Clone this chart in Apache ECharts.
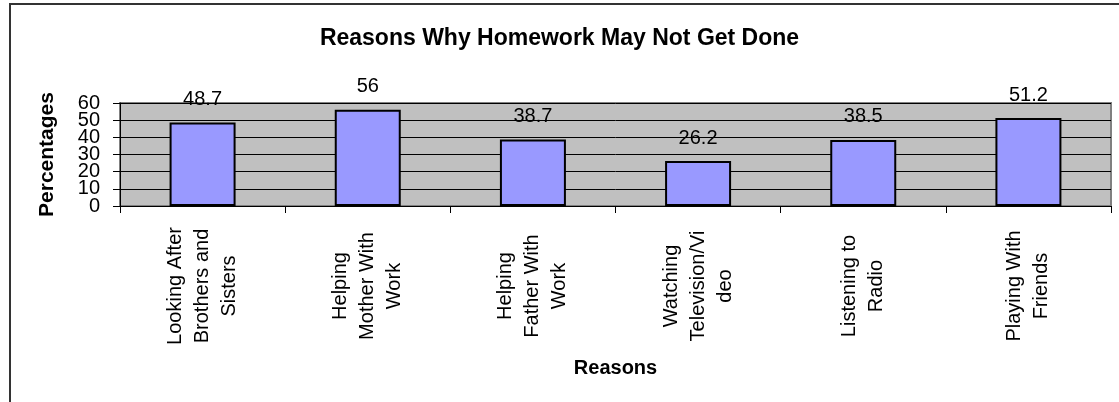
<!DOCTYPE html>
<html>
<head>
<meta charset="utf-8">
<script src="https://cdn.jsdelivr.net/npm/echarts@6/dist/echarts.min.js"></script>
<style>
html,body{margin:0;padding:0;background:#fff;}
#c{width:1119px;height:402px;}
</style>
</head>
<body>
<div id="c"></div>
<script>
var categories = [
  "Looking After\nBrothers and\nSisters",
  "Helping\nMother With\nWork",
  "Helping\nFather With\nWork",
  "Watching\nTelevision/Vi\ndeo",
  "Listening to\nRadio",
  "Playing With\nFriends"
];
var percentages = [48.7, 56, 38.7, 26.2, 38.5, 51.2];
var yTicks = { min: 0, max: 60, interval: 10 };

var FONT = '"Liberation Sans", Arial, sans-serif';
var chart = echarts.init(document.getElementById('c'), null, { renderer: 'canvas' });

function yLabelStyle(showEven) {
  return {
    margin: 20, fontFamily: FONT, fontSize: 20, color: '#000',
    showMinLabel: showEven, showMaxLabel: showEven, hideOverlap: false,
    formatter: function (v) {
      var even = (Math.round(v / yTicks.interval) % 2 === 0);
      return (even === showEven) ? String(v) : '';
    }
  };
}

chart.setOption({
  animation: false,
  backgroundColor: '#ffffff',
  textStyle: { fontFamily: FONT },
  title: {
    text: 'Reasons Why Homework May Not Get Done',
    left: 'center',
    top: 22,
    textStyle: { fontFamily: FONT, fontSize: 23, fontWeight: 'bold', color: '#000' }
  },
  graphic: [{
    type: 'rect',
    shape: { x: 10, y: 4, width: 1130, height: 420 },
    style: { fill: 'none', stroke: '#333333', lineWidth: 2 },
    silent: true
  }],
  grid: {
    left: 120, right: 8, top: 103, bottom: 196,
    show: true, backgroundColor: '#C0C0C0', borderColor: '#808080', borderWidth: 2
  },
  xAxis: {
    type: 'category',
    data: categories,
    name: 'Reasons',
    nameLocation: 'middle',
    nameGap: 152,
    nameTextStyle: { fontFamily: FONT, fontSize: 20, fontWeight: 'bold', color: '#000', verticalAlign: 'top' },
    axisLine: { lineStyle: { color: '#000', width: 1 } },
    axisTick: { show: true, length: 7, alignWithLabel: false, lineStyle: { color: '#000' } },
    axisLabel: {
      rotate: 90, interval: 0, margin: 80, align: 'center', verticalAlign: 'middle',
      fontFamily: FONT, fontSize: 20, lineHeight: 27, color: '#000'
    }
  },
  yAxis: [{
    type: 'value',
    position: 'left',
    min: yTicks.min, max: yTicks.max, interval: yTicks.interval,
    name: 'Percentages',
    nameLocation: 'middle',
    nameRotate: 90,
    nameGap: 62,
    nameTextStyle: { fontFamily: FONT, fontSize: 21, fontWeight: 'bold', color: '#000' },
    axisLine: { show: true, lineStyle: { color: '#000', width: 1 } },
    axisTick: { show: true, length: 7, lineStyle: { color: '#000' } },
    axisLabel: yLabelStyle(true),
    splitLine: { show: true, lineStyle: { color: '#000', width: 1 } }
  }, {
    type: 'value',
    position: 'left',
    offset: 0,
    min: yTicks.min, max: yTicks.max, interval: yTicks.interval,
    axisLine: { show: false },
    axisTick: { show: false },
    axisLabel: yLabelStyle(false),
    splitLine: { show: false }
  }],
  series: [{
    type: 'bar',
    yAxisIndex: 0,
    data: percentages,
    barWidth: 66,
    itemStyle: { color: '#9999FF', borderColor: '#000', borderWidth: 2 },
    label: {
      show: true, position: 'top', distance: 13,
      fontFamily: FONT, fontSize: 20, color: '#000'
    }
  }]
});
</script>
</body>
</html>
